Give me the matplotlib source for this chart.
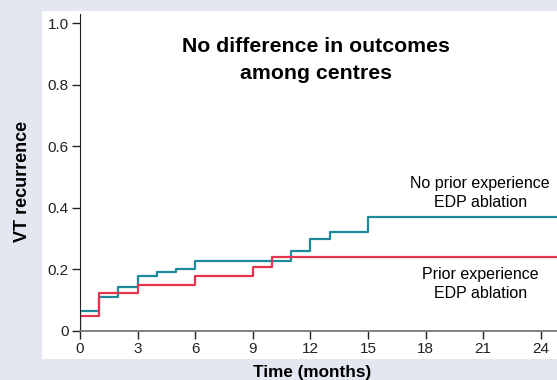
import matplotlib
matplotlib.use('Agg')
import matplotlib.pyplot as plt
from matplotlib.patches import Rectangle

# step curves (time in months, VT recurrence)
t_no_prior = [0, 0, 1, 2, 3, 4, 5, 6, 11, 12, 13, 15, 24.85]
y_no_prior = [0, 0.066, 0.112, 0.142, 0.178, 0.19, 0.202, 0.227, 0.261, 0.298, 0.321, 0.369, 0.369]

t_prior = [0, 0, 1, 3, 6, 9, 10, 24.85]
y_prior = [0.012, 0.049, 0.122, 0.15, 0.178, 0.209, 0.241, 0.241]

x_ticks = [0, 3, 6, 9, 12, 15, 18, 21, 24]
y_ticks = [0, 0.2, 0.4, 0.6, 0.8, 1.0]
y_labels = ['0', '0.2', '0.4', '0.6', '0.8', '1.0']

plt.rcParams['font.family'] = ['Liberation Sans', 'DejaVu Sans']

fig = plt.figure(figsize=(5.57, 3.80), dpi=100)
fig.patch.set_facecolor('#e3e7f1')
# white panel behind the plot
fig.patches.append(Rectangle((42 / 557, 21 / 380), 515 / 557, 348 / 380,
                             transform=fig.transFigure, facecolor='white',
                             edgecolor='none', zorder=-10))

ax = fig.add_axes([80 / 557, 49 / 380, 477 / 557, 317.2 / 380])
ax.set_facecolor('none')

ax.step(t_no_prior, y_no_prior, where='post', color='#1b8a9b', lw=1.6)
ax.step(t_prior, y_prior, where='post', color='#e5344f', lw=1.6)

ax.set_xlim(0, 24.85)
ax.set_ylim(0, 1.03)
ax.set_xticks(x_ticks)
ax.set_yticks(y_ticks)
ax.set_yticklabels(y_labels)
ax.tick_params(labelsize=11, length=6, width=1, colors='#222222', pad=2)
ax.spines['top'].set_visible(False)
ax.spines['right'].set_visible(False)
ax.spines['left'].set_color('#222222')
ax.spines['bottom'].set_color('#777777')
ax.spines['bottom'].set_linewidth(1.3)

ax.set_xlabel('Time (months)', fontsize=12.3, fontweight='bold')
ax.set_ylabel('VT recurrence', fontsize=13, fontweight='bold')
ax.xaxis.set_label_coords(0.487, -0.107)
ax.yaxis.set_label_coords(-0.103, 0.47)

ax.text(12.3, 0.88, 'No difference in outcomes\namong centres', ha='center',
        va='center', fontsize=15.3, fontweight='bold', linespacing=1.55)

ax.text(20.85, 0.448, 'No prior experience\nEDP ablation', ha='center',
        va='center', fontsize=11.5, linespacing=1.35)
ax.text(20.85, 0.152, 'Prior experience\nEDP ablation', ha='center',
        va='center', fontsize=11.5, linespacing=1.3)

fig.savefig('out.png', dpi=100, facecolor=fig.get_facecolor())
